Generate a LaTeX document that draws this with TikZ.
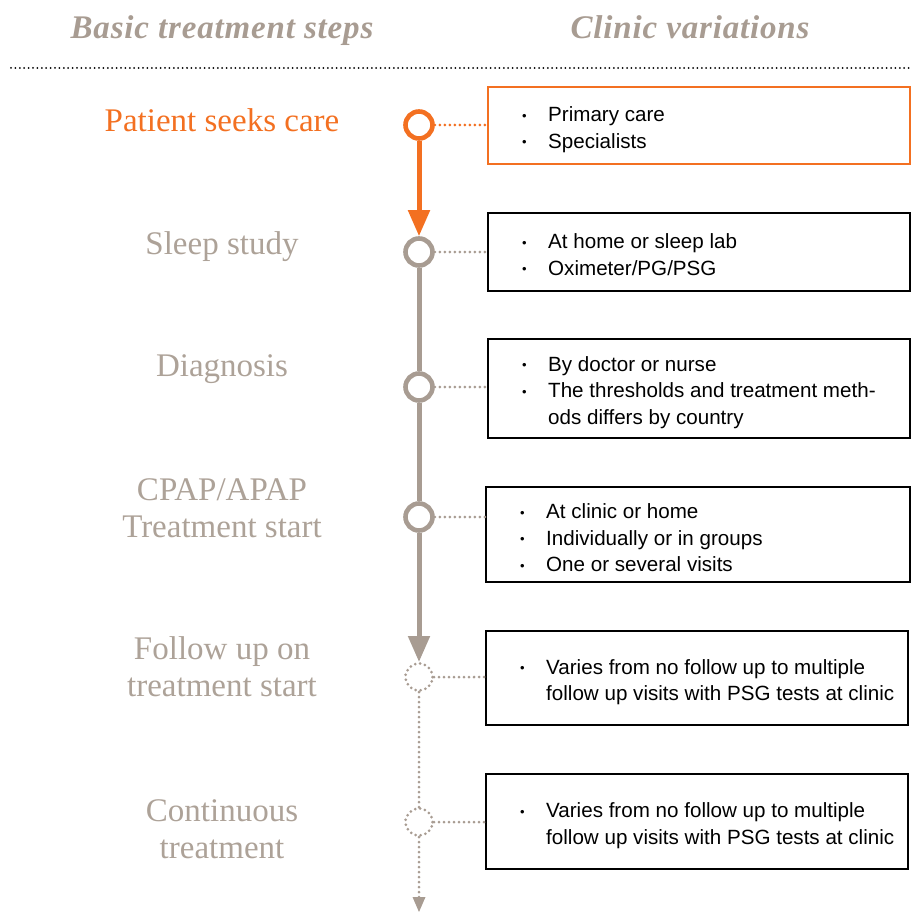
\documentclass[tikz,border=0pt]{standalone}
\usepackage{fontspec}
\setmainfont{Liberation Serif}
\setsansfont{Liberation Sans}
\usetikzlibrary{arrows.meta}
\definecolor{orangec}{HTML}{F37021}
\definecolor{grayc}{HTML}{A89C92}
\definecolor{labelc}{HTML}{ADA298}
\newcommand{\bitem}{\makebox[26pt][l]{\raisebox{1.5pt}{\fontsize{13}{13}\selectfont\textbullet}}}
\begin{document}
\begin{tikzpicture}[x=1pt,y=-1pt,
  stepdot/.style={circle, draw=grayc, line width=4.6pt, minimum size=27pt, inner sep=0pt},
  stepdotted/.style={circle, draw=grayc, line width=3pt, minimum size=27pt, inner sep=0pt, dash pattern=on 0pt off 5pt, line cap=round},
  vbox/.style={draw=black, line width=1.6pt, anchor=north west, inner sep=0pt},
  vtext/.style={anchor=west, inner sep=0pt, align=left, font=\sffamily\fontsize{20.6}{26.5}\selectfont},
  steplabel/.style={font=\fontsize{33}{37}\selectfont, text=labelc, align=center, anchor=base},
  head/.style={font=\itshape\bfseries\fontsize{33}{36}\selectfont\addfontfeature{LetterSpace=2.5}, text=grayc, anchor=base},
  link/.style={draw=grayc, line width=3pt, dash pattern=on 0pt off 5pt, line cap=round},
  bigtip/.style={-{Triangle[width=21pt,length=26pt]}}
]
\useasboundingbox (0,0) rectangle (915,912);
% headers
\node[head] (h1) at (222,39) {Basic treatment steps};
\node[head] (h2) at (690,39) {Clinic variations};
\coordinate (hl) at (11,68);
\coordinate (hr) at (912,68);
\draw[line width=2pt, dash pattern=on 0pt off 4.4pt, line cap=round] (hl) -- (hr);

% circles
\node[stepdot, draw=orangec] (c1) at (419,125) {};
\node[stepdot] (c2) at (419,252) {};
\node[stepdot] (c3) at (419,387) {};
\node[stepdot] (c4) at (419,517) {};
\node[stepdotted] (c5) at (419,677) {};
\node[stepdotted] (c6) at (419,822) {};
\coordinate (cend) at (419,912);

% spine
\draw[orangec, line width=5pt, bigtip] (c1) -- (c2);
\draw[grayc, line width=5pt] (c2) -- (c3);
\draw[grayc, line width=5pt] (c3) -- (c4);
\draw[grayc, line width=5pt, bigtip] (c4) -- (c5);
\draw[link] (c5) -- (c6);
\draw[link] (c6) -- ([yshift=14pt]cend);
\fill[grayc] (cend) -- ++(-6.5,-15) -- ++(13,0) -- cycle;

% labels (anchor = baseline of last line)
\node[steplabel, text=orangec] (l1) at (222,132) {Patient seeks care};
\node[steplabel] (l2) at (222,254) {Sleep study};
\node[steplabel] (l3) at (222,376) {Diagnosis};
\node[steplabel] (l4) at (222,537) {CPAP/APAP\\Treatment start};
\node[steplabel] (l5) at (222,696) {Follow up on\\treatment start};
\node[steplabel] (l6) at (222,858) {Continuous\\treatment};

% boxes
\node[vbox, draw=orangec, minimum width=422pt, minimum height=77pt] (b1) at (487,86) {};
\node[vbox, minimum width=422pt, minimum height=78pt] (b2) at (487,212) {};
\node[vbox, minimum width=422pt, minimum height=99pt] (b3) at (487,338) {};
\node[vbox, minimum width=424pt, minimum height=95pt] (b4) at (485,486) {};
\node[vbox, minimum width=422pt, minimum height=94pt] (b5) at (485,630) {};
\node[vbox, minimum width=422pt, minimum height=95pt] (b6) at (485,773) {};

\node[vtext] (t1) at ([xshift=35pt, yshift=-4.5pt]b1.west) {\bitem Primary care\\\bitem Specialists};
\node[vtext] (t2) at ([xshift=35pt, yshift=-3pt]b2.west) {\bitem At home or sleep lab\\\bitem Oximeter/PG/PSG};
\node[vtext] (t3) at ([xshift=35pt, yshift=-4pt]b3.west) {\bitem By doctor or nurse\\\bitem The thresholds and treatment meth-\\\hspace*{26pt}ods differs by country};
\node[vtext] (t4) at ([xshift=35pt, yshift=-3.5pt]b4.west) {\bitem At clinic or home\\\bitem Individually or in groups\\\bitem One or several visits};
\node[vtext] (t5) at ([xshift=35pt, yshift=-4.5pt]b5.west) {\bitem Varies from no follow up to multiple\\\hspace*{26pt}follow up visits with PSG tests at clinic};
\node[vtext] (t6) at ([xshift=35pt, yshift=-4.5pt]b6.west) {\bitem Varies from no follow up to multiple\\\hspace*{26pt}follow up visits with PSG tests at clinic};

% connectors
\draw[link, draw=orangec] (c1) -- (c1 -| b1.west);
\draw[link] (c2) -- (c2 -| b2.west);
\draw[link] (c3) -- (c3 -| b3.west);
\draw[link] (c4) -- (c4 -| b4.west);
\draw[link] (c5) -- (c5 -| b5.west);
\draw[link] (c6) -- (c6 -| b6.west);
\end{tikzpicture}
\end{document}
